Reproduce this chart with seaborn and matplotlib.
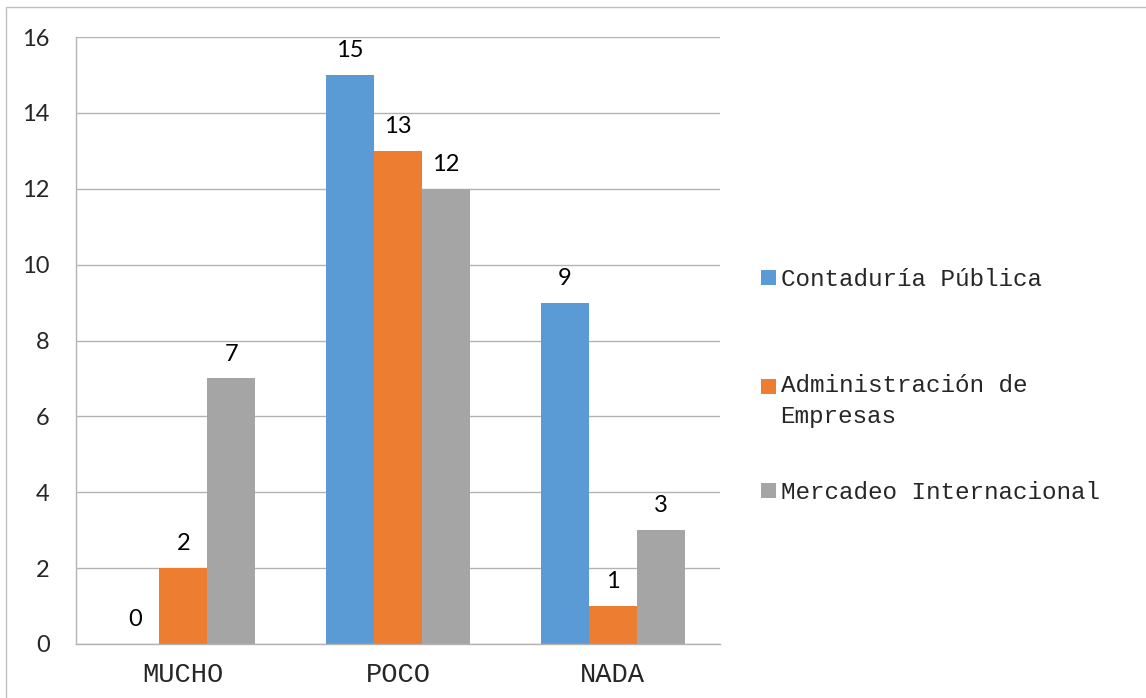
import matplotlib
matplotlib.use("Agg")
import matplotlib.pyplot as plt
import matplotlib.patches as mpatches
import pandas as pd
import seaborn as sns

# datos
categorias = ["MUCHO", "POCO", "NADA"]
series = ["Contaduría Pública", "Administración de\nEmpresas", "Mercadeo Internacional"]
contaduria = [0, 15, 9]
administracion = [2, 13, 1]
mercadeo = [7, 12, 3]
y_ticks = [0, 2, 4, 6, 8, 10, 12, 14, 16]

colores = ["#5B9BD5", "#ED7D31", "#A5A5A5"]
gris = "#b3b3b3"

df = pd.DataFrame({
    "categoria": categorias * 3,
    "serie": [series[0]] * 3 + [series[1]] * 3 + [series[2]] * 3,
    "valor": contaduria + administracion + mercadeo,
})

sns.set_style("white")
plt.rcParams["font.family"] = ["Lato", "DejaVu Sans"]

fig = plt.figure(figsize=(11.46, 6.98), dpi=100)
ax = fig.add_axes([76 / 1146, 1 - 644 / 698, (720 - 76) / 1146, (644 - 37) / 698])

sns.barplot(data=df, x="categoria", y="valor", hue="serie", palette=colores,
            width=0.67, gap=0, linewidth=0, saturation=1, ax=ax, legend=True)

# etiquetas de datos
for cont in ax.containers:
    ax.bar_label(cont, fmt="%d", padding=10, fontsize=17, color="black")

ax.set_ylim(0, 16)
ax.set_xlim(-0.5, 2.5)
ax.set_yticks(y_ticks)
ax.set_yticklabels([str(t) for t in y_ticks], fontsize=17)
ax.set_xlabel("")
ax.set_ylabel("")
ax.yaxis.grid(True, color=gris, linewidth=1)
ax.set_axisbelow(True)

for lab in ax.get_xticklabels():
    lab.set_fontfamily("Liberation Mono")
    lab.set_fontsize(19.5)
ax.tick_params(axis="x", length=0, pad=13)
ax.set_xticks([-0.5, 0.5, 1.5, 2.5], minor=True)
ax.tick_params(axis="x", which="minor", length=8, color=gris, width=1)
ax.tick_params(axis="y", length=8, color=gris, width=1, pad=11)

for s in ["top", "right"]:
    ax.spines[s].set_visible(False)
for s in ["left", "bottom"]:
    ax.spines[s].set_color(gris)
    ax.spines[s].set_linewidth(1)

handles, labels = ax.get_legend_handles_labels()
leg = ax.legend(handles, labels, loc="center left", bbox_to_anchor=(749 / 1146, 1 - 386 / 698),
                bbox_transform=fig.transFigure, frameon=False,
                prop={"family": "Liberation Mono", "size": 17.5},
                handlelength=0.6, handleheight=0.6, handletextpad=0.2,
                labelspacing=2.8, borderpad=0)
# la etiqueta de dos lineas queda alineada con su primera linea, como en el original
leg.texts[1].set_linespacing(1.45)
leg.texts[1].set_position((0, -15))

# borde del grafico
fig.patches.append(mpatches.Rectangle((6 / 1146, -0.1), 1.2, 1.1 - 7 / 698, fill=False,
                                      edgecolor="#c0c0c0", linewidth=1,
                                      transform=fig.transFigure, figure=fig))

fig.savefig("out.png", dpi=100)
